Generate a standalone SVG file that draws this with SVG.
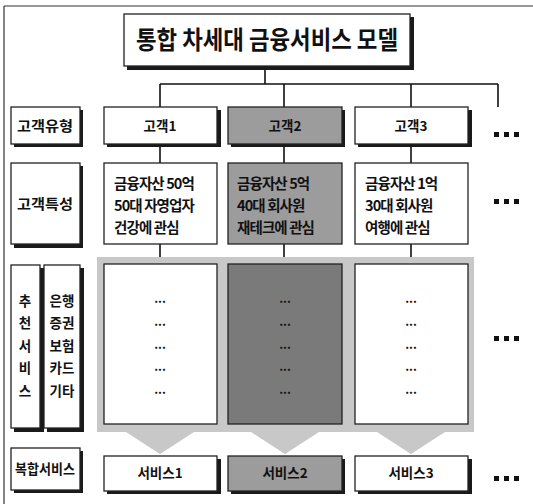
<svg xmlns="http://www.w3.org/2000/svg" width="533" height="504" viewBox="0 0 533 504">
<style>
text{font-family:"Noto Sans CJK KR","Noto Sans",sans-serif;fill:#111;font-weight:700}
.box{fill:#fff;stroke:#222;stroke-width:1.3}
.gbox{fill:#9c9c9c;stroke:#222;stroke-width:1.3}
.dbox{fill:#7a7a7a;stroke:#222;stroke-width:1.3}
.shadow{fill:#1a1a1a}
.halo{fill:#c8c8c8}
.c{text-anchor:middle}
.lbl{font-size:13.5px}
.ft{font-size:14.5px;letter-spacing:-0.9px}
.ln{stroke:#111;stroke-width:1.6;fill:none}
.dots{fill:#111}
</style>
<rect width="533" height="504" fill="#fff"/>
<g id="frame"><path d="M4 6H533M4 6V504" stroke="#333" stroke-width="1.2" fill="none"/></g>

<g id="connectors">
<path class="ln" d="M265 66V84M160 84H498M160 84V107M284 84V107M411 84V107M498 84V107"/>
<path class="ln" d="M160 145V163M284 145V163M411 145V163"/>
<path class="ln" d="M160 244V264M284 244V264M411 244V264"/>
</g>

<g id="title">
<rect class="shadow" x="127" y="17" width="287" height="53"/>
<rect class="box" x="124" y="14" width="286" height="52"/>
<text class="c" x="267" y="49" font-size="25" textLength="262" lengthAdjust="spacingAndGlyphs">통합 차세대 금융서비스 모델</text>
</g>

<g id="label-type">
<rect class="shadow" x="14" y="110" width="69" height="37"/>
<rect class="box" x="11" y="107" width="69" height="37"/>
<text class="c lbl" x="45" y="131" textLength="56" lengthAdjust="spacingAndGlyphs">고객유형</text>
</g>
<g id="label-feature">
<rect class="shadow" x="14" y="166" width="69" height="82"/>
<rect class="box" x="11" y="163" width="69" height="81"/>
<text class="c lbl" x="45" y="209" textLength="56" lengthAdjust="spacingAndGlyphs">고객특성</text>
</g>
<g id="label-recommend">
<rect class="shadow" x="14" y="268" width="30" height="164"/>
<rect class="box" x="11" y="265" width="29" height="163"/>
<text class="c lbl" x="25" y="306">추</text>
<text class="c lbl" x="25" y="328">천</text>
<text class="c lbl" x="25" y="351">서</text>
<text class="c lbl" x="25" y="373">비</text>
<text class="c lbl" x="25" y="396">스</text>
</g>
<g id="label-category">
<rect class="shadow" x="47" y="268" width="37" height="164"/>
<rect class="box" x="44" y="265" width="36" height="163"/>
<text class="c lbl" x="62" y="306">은행</text>
<text class="c lbl" x="62" y="328">증권</text>
<text class="c lbl" x="62" y="351">보험</text>
<text class="c lbl" x="62" y="373">카드</text>
<text class="c lbl" x="62" y="396">기타</text>
</g>
<g id="label-complex">
<rect class="shadow" x="14" y="451" width="69" height="42"/>
<rect class="box" x="11" y="448" width="69" height="42"/>
<text class="c lbl" x="45" y="474" textLength="60" lengthAdjust="spacingAndGlyphs">복합서비스</text>
</g>

<g id="customer1">
<rect class="shadow" x="107" y="110" width="114" height="37"/>
<rect class="box" x="104" y="107" width="113" height="37"/>
<text class="c lbl" x="160" y="131">고객1</text>
</g>
<g id="customer2">
<rect class="shadow" x="231" y="110" width="114" height="37"/>
<rect class="gbox" x="228" y="107" width="114" height="37"/>
<text class="c lbl" x="285" y="131">고객2</text>
</g>
<g id="customer3">
<rect class="shadow" x="358" y="110" width="114" height="37"/>
<rect class="box" x="355" y="107" width="113" height="37"/>
<text class="c lbl" x="411" y="131">고객3</text>
</g>

<g id="feature1">
<rect class="box" x="104" y="163" width="113" height="81"/>
<text class="ft" x="114" y="189">금융자산 50억</text>
<text class="ft" x="114" y="211">50대 자영업자</text>
<text class="ft" x="114" y="233">건강에 관심</text>
</g>
<g id="feature2">
<rect class="gbox" x="228" y="163" width="114" height="81"/>
<text class="ft" x="237" y="189">금융자산 5억</text>
<text class="ft" x="237" y="211">40대 회사원</text>
<text class="ft" x="237" y="233">재테크에 관심</text>
</g>
<g id="feature3">
<rect class="box" x="355" y="163" width="113" height="81"/>
<text class="ft" x="365" y="189">금융자산 1억</text>
<text class="ft" x="365" y="211">30대 회사원</text>
<text class="ft" x="365" y="233">여행에 관심</text>
</g>

<g id="recommend1">
<polygon class="halo" points="97,257 222,257 222,432 194,432 160,454 126,432 97,432"/>
<rect class="box" x="104" y="264" width="113" height="160"/>
<g class="c" font-size="12"><text x="160" y="303">...</text><text x="160" y="326">...</text><text x="160" y="349">...</text><text x="160" y="371">...</text><text x="160" y="394">...</text></g>
</g>
<g id="recommend2">
<polygon class="halo" points="222,257 348,257 348,432 319,432 285,454 251,432 222,432"/>
<rect class="dbox" x="228" y="264" width="114" height="160"/>
<g class="c" font-size="12"><text x="285" y="303">...</text><text x="285" y="326">...</text><text x="285" y="349">...</text><text x="285" y="371">...</text><text x="285" y="394">...</text></g>
</g>
<g id="recommend3">
<polygon class="halo" points="348,257 474,257 474,432 445,432 411,454 377,432 348,432"/>
<rect class="box" x="355" y="264" width="113" height="160"/>
<g class="c" font-size="12"><text x="411" y="303">...</text><text x="411" y="326">...</text><text x="411" y="349">...</text><text x="411" y="371">...</text><text x="411" y="394">...</text></g>
</g>

<g id="service1">
<rect class="shadow" x="107" y="459" width="114" height="35"/>
<rect class="box" x="104" y="456" width="113" height="35"/>
<text class="c lbl" x="160" y="478">서비스1</text>
</g>
<g id="service2">
<rect class="shadow" x="231" y="459" width="114" height="35"/>
<rect class="gbox" x="228" y="456" width="114" height="35"/>
<text class="c lbl" x="285" y="478">서비스2</text>
</g>
<g id="service3">
<rect class="shadow" x="358" y="459" width="114" height="35"/>
<rect class="box" x="355" y="456" width="113" height="35"/>
<text class="c lbl" x="411" y="478">서비스3</text>
</g>

<g id="more" class="dots">
<rect x="494" y="132" width="5" height="5"/><rect x="504" y="132" width="5" height="5"/><rect x="514" y="132" width="5" height="5"/>
<rect x="494" y="199" width="5" height="5"/><rect x="504" y="199" width="5" height="5"/><rect x="514" y="199" width="5" height="5"/>
<rect x="494" y="336" width="5" height="5"/><rect x="504" y="336" width="5" height="5"/><rect x="514" y="336" width="5" height="5"/>
<rect x="494" y="476" width="5" height="5"/><rect x="504" y="476" width="5" height="5"/><rect x="514" y="476" width="5" height="5"/>
</g>
</svg>
